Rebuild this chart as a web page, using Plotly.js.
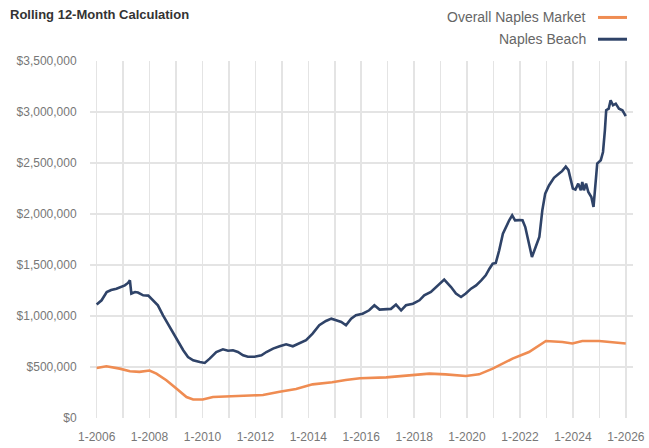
<!DOCTYPE html>
<html>
<head>
<meta charset="utf-8">
<script src="https://cdn.plot.ly/plotly-3.0.1.min.js"></script>
<style>html,body{margin:0;padding:0;background:#fff;}#chart{width:649px;height:448px;}</style>
</head>
<body>
<div id="chart"></div>
<script>
// Naples Beach (rolling 12-month, USD thousands)
const beachDates = ['2006-01-01','2006-03-10','2006-05-20','2006-07-20','2006-10-01','2006-12-10','2007-01-25','2007-03-10','2007-04-05','2007-04-25','2007-06-15','2007-07-25','2007-10-05','2007-12-15','2008-02-20','2008-04-25','2008-07-05','2008-09-10','2008-11-20','2009-02-01','2009-04-10','2009-06-15','2009-08-25','2009-11-25','2010-02-01','2010-04-10','2010-07-10','2010-10-10','2010-12-20','2011-02-25','2011-05-05','2011-07-15','2011-09-20','2011-12-20','2012-03-25','2012-06-01','2012-09-01','2012-12-01','2013-03-01','2013-06-01','2013-09-01','2013-12-01','2014-03-01','2014-06-01','2014-09-01','2014-11-15','2015-01-20','2015-04-01','2015-06-05','2015-08-15','2015-10-20','2016-01-20','2016-04-20','2016-07-01','2016-09-10','2016-12-10','2017-02-15','2017-04-25','2017-07-05','2017-09-10','2017-12-15','2018-03-15','2018-05-20','2018-08-20','2018-11-01','2019-01-10','2019-02-20','2019-05-25','2019-08-01','2019-10-10','2019-12-15','2020-02-25','2020-05-05','2020-07-15','2020-09-15','2020-11-05','2020-12-20','2021-02-01','2021-03-20','2021-05-10','2021-06-20','2021-08-05','2021-09-15','2021-10-25','2021-12-20','2022-02-05','2022-03-15','2022-04-25','2022-06-15','2022-08-05','2022-09-25','2022-11-05','2022-12-15','2023-02-05','2023-04-15','2023-06-25','2023-08-05','2023-09-25','2023-11-01','2023-12-05','2024-01-01','2024-02-05','2024-03-15','2024-04-20','2024-05-10','2024-06-01','2024-07-01','2024-08-01','2024-09-12','2024-10-12','2024-11-10','2024-12-02','2025-01-20','2025-02-20','2025-03-18','2025-04-05','2025-05-10','2025-06-05','2025-07-08','2025-08-15','2025-09-28','2025-11-15','2025-12-31'];
const beachValues = [1112,1154,1235,1255,1268,1284,1300,1324,1350,1220,1235,1230,1203,1200,1154,1105,1007,925,843,745,664,598,566,549,540,582,647,673,660,664,647,615,600,600,615,647,680,703,723,703,729,762,827,909,951,974,958,941,909,974,1007,1023,1056,1105,1063,1063,1070,1112,1056,1105,1121,1154,1203,1235,1284,1333,1357,1284,1220,1186,1220,1268,1300,1350,1399,1464,1513,1520,1644,1807,1872,1938,1987,1938,1940,1938,1872,1742,1578,1676,1774,2036,2200,2280,2355,2396,2420,2465,2430,2330,2249,2240,2298,2232,2314,2232,2298,2216,2167,2069,2298,2494,2527,2608,2820,3017,3033,3115,3066,3082,3033,3017,2960];

// Overall Naples Market (rolling 12-month, USD thousands)
const marketDates = ['2006-01-01','2006-05-15','2006-11-15','2007-04-05','2007-08-15','2008-01-01','2008-04-05','2008-08-20','2009-01-05','2009-05-25','2009-08-25','2010-01-05','2010-05-25','2011-01-10','2011-08-25','2012-04-15','2012-12-01','2013-07-15','2014-03-01','2014-11-25','2015-06-01','2015-12-15','2016-12-10','2017-12-15','2018-07-30','2019-03-10','2019-12-15','2020-06-15','2020-12-20','2021-09-20','2022-05-05','2022-12-25','2023-08-10','2023-12-25','2024-05-10','2024-12-28','2025-07-01','2025-12-31'];
const marketValues = [490,507,484,458,452,466,435,370,288,206,182,182,206,212,212,225,258,285,330,350,372,390,398,419,435,428,412,428,484,582,647,755,745,730,755,755,745,730];

const seriesNames = ['Overall Naples Market','Naples Beach'];
const seriesColors = ['#EF8C52','#2F4368'];
const chartTitle = 'Rolling 12-Month Calculation';

const FONT = '"Liberation Sans Narrow", "Arial Narrow", "Liberation Sans", Arial, sans-serif';
const k = v => v * 1000;

const traces = [
  {x: marketDates, y: marketValues.map(k), name: seriesNames[0], type: 'scatter', mode: 'lines',
   line: {color: seriesColors[0], width: 2.6}, showlegend: false},
  {x: beachDates, y: beachValues.map(k), name: seriesNames[1], type: 'scatter', mode: 'lines',
   line: {color: seriesColors[1], width: 2.6}, showlegend: false}
];

// legend drawn at the top right, with the line sample right of the text
const legY = [1.122, 1.061];
const annotations = seriesNames.map((n, i) => ({
  xref: 'paper', yref: 'paper', x: 0.917, y: legY[i], xanchor: 'right', yanchor: 'middle',
  text: n, showarrow: false, font: {family: FONT, size: 14, color: '#666'}
}));
const shapes = seriesColors.map((c, i) => ({
  type: 'line', xref: 'paper', yref: 'paper', x0: 0.9355, x1: 0.989, y0: legY[i], y1: legY[i],
  line: {color: c, width: 3}
}));

const layout = {
  width: 649, height: 448,
  margin: {l: 90, r: 16, t: 61, b: 30},
  paper_bgcolor: '#fff', plot_bgcolor: '#fff',
  title: {text: chartTitle, x: 10/649, xanchor: 'left', xref: 'container', y: 1 - 14/448, yanchor: 'middle', yref: 'container',
          font: {family: FONT, size: 13, color: '#333', weight: 'bold'}},
  showlegend: false,
  xaxis: {
    type: 'date', range: ['2005-10-01', '2026-04-10'],
    tick0: '2006-01-01', dtick: 'M24', tickformat: '%-m-%Y',
    ticks: 'outside', ticklen: 8, tickcolor: 'rgba(0,0,0,0)',
    showgrid: true, gridcolor: '#e4e4e4', gridwidth: 1.5,
    minor: {tick0: '2006-01-01', dtick: 'M12', showgrid: true, gridcolor: '#e4e4e4', gridwidth: 1.5, ticks: ''},
    showline: false, zeroline: false,
    tickfont: {family: FONT, size: 12, color: '#777'}
  },
  yaxis: {
    range: [0, 3500000], dtick: 500000, tick0: 0,
    tickprefix: '$', tickformat: ',d',
    ticks: 'outside', ticklen: 10, tickcolor: 'rgba(0,0,0,0)',
    showgrid: true, gridcolor: '#e4e4e4', gridwidth: 1.5,
    showline: false, zeroline: false,
    tickfont: {family: FONT, size: 12, color: '#777'}
  },
  annotations: annotations,
  shapes: shapes
};

Plotly.newPlot('chart', traces, layout, {staticPlot: true, displayModeBar: false});
</script>
</body>
</html>
